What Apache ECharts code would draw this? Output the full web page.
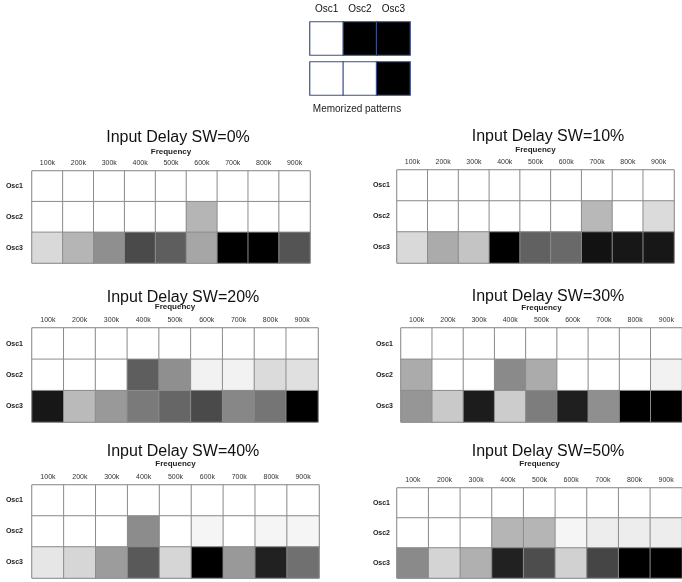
<!DOCTYPE html>
<html>
<head>
<meta charset="utf-8">
<script src="https://cdn.jsdelivr.net/npm/echarts@6/dist/echarts.min.js"></script>
<style>html,body{margin:0;padding:0;background:#fff;}#chart{width:682px;height:582px;}</style>
</head>
<body>
<div id="chart"></div>
<script>
// ---- data (darkness 0 = white, 100 = black) ----
var frequencies = ['100k','200k','300k','400k','500k','600k','700k','800k','900k'];
var oscillators = ['Osc1','Osc2','Osc3'];
var patternLabels = ['Osc1','Osc2','Osc3'];
var pattern1 = [0, 100, 100];
var pattern2 = [0, 0, 100];
var panelTitles = ['Input Delay SW=0%','Input Delay SW=10%','Input Delay SW=20%','Input Delay SW=30%','Input Delay SW=40%','Input Delay SW=50%'];
var sw0 = [
  [0,0,0,0,0,0,0,0,0],
  [0,0,0,0,0,29,0,0,0],
  [15,29,44,71,63,35,100,100,67]
];
var sw10 = [
  [0,0,0,0,0,0,0,0,0],
  [0,0,0,0,0,0,28,0,14],
  [15,33,23,100,62,59,93,91,91]
];
var sw20 = [
  [0,0,0,0,0,0,0,0,0],
  [0,0,0,63,44,5,5,14,12],
  [91,27,40,52,60,71,47,54,100]
];
var sw30 = [
  [0,0,0,0,0,0,0,0,0],
  [33,0,0,46,33,0,0,0,5],
  [41,21,89,20,51,88,44,100,100]
];
var sw40 = [
  [0,0,0,0,0,0,0,0,0],
  [0,0,0,45,0,4,0,4,4],
  [10,16,39,65,16,100,40,87,56]
];
var sw50 = [
  [0,0,0,0,0,0,0,0,0],
  [0,0,0,29,29,4,7,7,7],
  [46,17,31,87,70,18,73,100,100]
];
var panels = [sw0, sw10, sw20, sw30, sw40, sw50];

// ---- layout ----
var panelBoxes = [
  {left:32,  top:171, width:278, height:92, title:[178,130], gap:15, ylm:9},
  {left:397, top:170, width:277, height:93, title:[548,129], gap:16, ylm:7},
  {left:32,  top:328, width:286, height:94, title:[183,290], gap:17, ylm:9},
  {left:401, top:328, width:287, height:94, title:[548,289], gap:16, ylm:8},
  {left:32,  top:485, width:287, height:93, title:[183,444], gap:17, ylm:9},
  {left:397, top:488, width:287, height:90, title:[548,444], gap:20, ylm:7}
];
var FONT = 'Liberation Sans, Arial, sans-serif';

var grids = [], xAxes = [], yAxes = [], series = [], titles = [];

// memorized patterns
[[pattern1, 22], [pattern2, 62]].forEach(function (p, k) {
  var gi = grids.length;
  grids.push({left:310, top:p[1], width:100, height:33});
  xAxes.push({gridIndex:gi, type:'category', data:patternLabels, position:'top',
    axisLine:{show:false}, axisTick:{show:false}, splitLine:{show:false},
    axisLabel:{show:k === 0, fontSize:10, color:'#111', fontFamily:FONT, margin:8}});
  yAxes.push({gridIndex:gi, type:'category', data:['p'], show:false});
  series.push({type:'heatmap', xAxisIndex:gi, yAxisIndex:gi,
    data:p[0].map(function (v, i) { return [i, 0, v]; }),
    itemStyle:{borderColor:'#3c4f8c', borderWidth:1.2}, emphasis:{disabled:true}});
});
titles.push({text:'Memorized patterns', left:357, top:104, textAlign:'center', padding:0,
  textStyle:{fontSize:10, fontWeight:'normal', color:'#222', fontFamily:FONT}});

panels.forEach(function (rows, pi) {
  var b = panelBoxes[pi];
  var gi = grids.length;
  grids.push({left:b.left, top:b.top, width:b.width, height:b.height, show:true,
    borderColor:'#999', borderWidth:1, backgroundColor:'transparent'});
  xAxes.push({gridIndex:gi, type:'category', data:frequencies, position:'top',
    axisLine:{show:false}, axisTick:{show:false}, splitLine:{show:false},
    axisLabel:{fontSize:7, color:'#333', fontFamily:FONT, margin:4},
    name:'Frequency', nameLocation:'middle', nameGap:b.gap,
    nameTextStyle:{fontSize:8, fontWeight:'bold', color:'#222', fontFamily:FONT}});
  yAxes.push({gridIndex:gi, type:'category', data:oscillators, inverse:true,
    axisLine:{show:false}, axisTick:{show:false}, splitLine:{show:false},
    axisLabel:{fontSize:7, fontWeight:'bold', color:'#222', fontFamily:FONT, margin:b.ylm}});
  var data = [];
  rows.forEach(function (row, r) {
    row.forEach(function (v, c) { data.push([c, r, v]); });
  });
  series.push({type:'heatmap', xAxisIndex:gi, yAxisIndex:gi, data:data,
    itemStyle:{borderColor:'#8c8c8c', borderWidth:1}, emphasis:{disabled:true}});
  titles.push({text:panelTitles[pi], left:b.title[0], top:b.title[1], textAlign:'center', padding:0,
    textStyle:{fontSize:16, fontWeight:'normal', color:'#111', fontFamily:FONT}});
});

var chart = echarts.init(document.getElementById('chart'), null, {renderer:'canvas'});
chart.setOption({
  animation:false,
  backgroundColor:'#fff',
  title:titles,
  grid:grids,
  xAxis:xAxes,
  yAxis:yAxes,
  visualMap:{show:false, type:'continuous', min:0, max:100, dimension:2,
    inRange:{color:['#ffffff','#000000']}},
  series:series
});
</script>
</body>
</html>
